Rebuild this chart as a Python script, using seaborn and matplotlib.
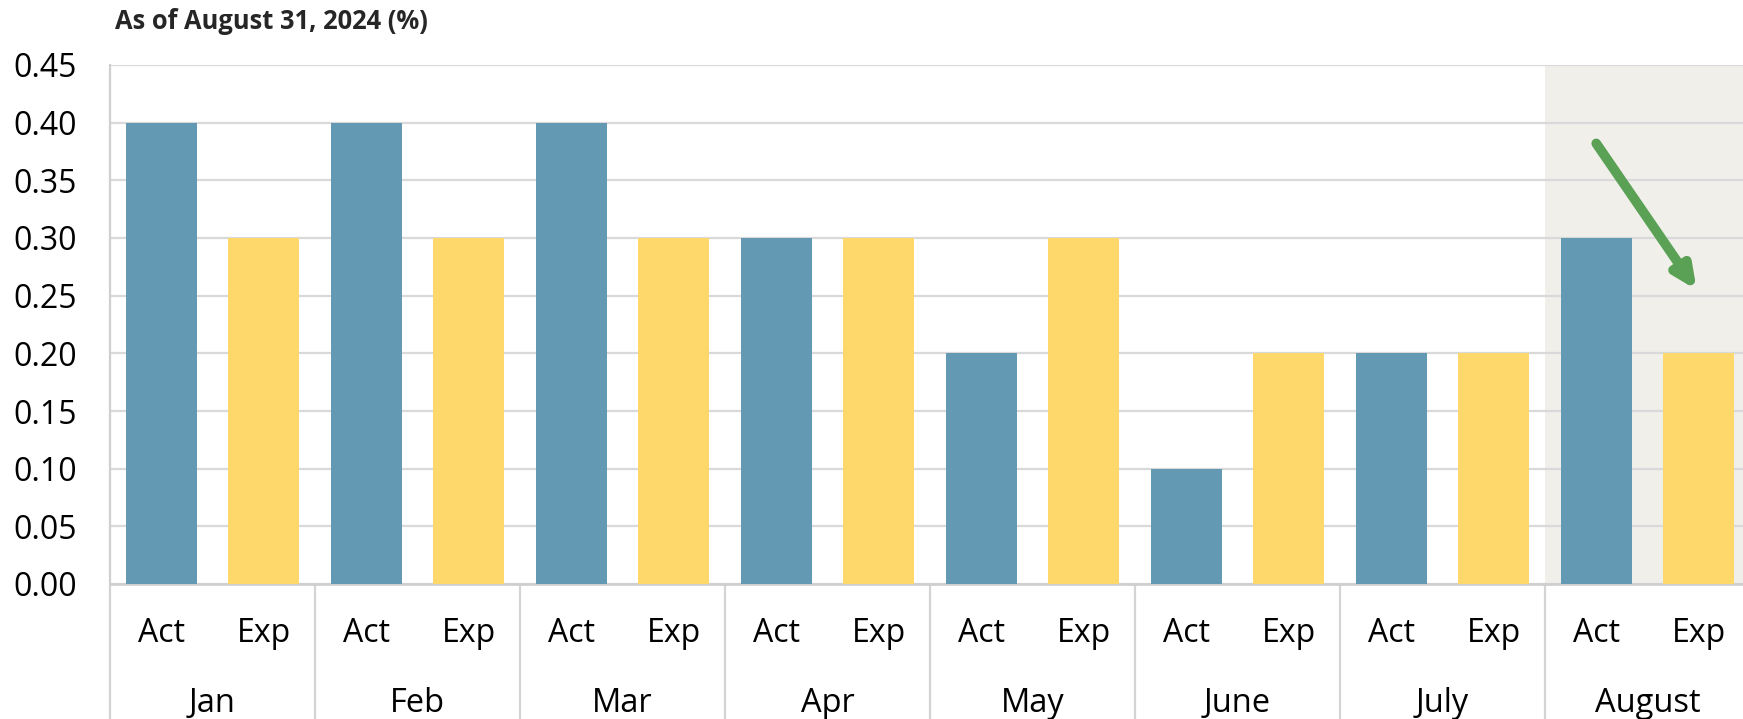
import matplotlib
matplotlib.use("Agg")
import matplotlib.pyplot as plt
import matplotlib.transforms as mtransforms
import seaborn as sns
import pandas as pd

months = ["Jan", "Feb", "Mar", "Apr", "May", "June", "July", "August"]
actual = [0.40, 0.40, 0.40, 0.30, 0.20, 0.10, 0.20, 0.30]
expected = [0.30, 0.30, 0.30, 0.30, 0.30, 0.20, 0.20, 0.20]
kinds = ["Act", "Exp"]
y_ticks = [0.00, 0.05, 0.10, 0.15, 0.20, 0.25, 0.30, 0.35, 0.40, 0.45]

ACT_COLOR = "#6399b2"
EXP_COLOR = "#fed86b"
GRID_COLOR = "#d9d9d9"
SHADE_COLOR = "#f0efea"
ARROW_COLOR = "#5aa155"

# long table, one row per bar
rows = []
for m, a, e in zip(months, actual, expected):
    rows.append({"slot": f"{m} Act", "kind": "Act", "value": a})
    rows.append({"slot": f"{m} Exp", "kind": "Exp", "value": e})
df = pd.DataFrame(rows)
order = list(df["slot"])

sns.set_style("white")
plt.rcParams["font.family"] = ["Open Sans", "DejaVu Sans"]

fig = plt.figure(figsize=(17.43, 7.19), dpi=100)
ax = fig.add_axes([110 / 1743, 1 - 584 / 719, 1640 / 1743, 519 / 719])

# highlighted last month
ax.axvspan(13.5, 15.6, color=SHADE_COLOR, zorder=0, lw=0)

sns.barplot(data=df, x="slot", y="value", hue="kind", order=order,
            palette={"Act": ACT_COLOR, "Exp": EXP_COLOR}, dodge=False,
            saturation=1, width=0.69, legend=False, ax=ax, zorder=3,
            linewidth=0)

ax.set_xlim(-0.5, 15.5)
ax.set_ylim(0, 0.45)
ax.set_yticks(y_ticks)
ax.set_yticklabels([f"{v:.2f}" for v in y_ticks], fontsize=23)
ax.yaxis.grid(True, color=GRID_COLOR, lw=1.6, zorder=1)
ax.set_axisbelow(True)
ax.tick_params(axis="y", length=0, pad=24, labelcolor="black")

ax.set_xticks(range(len(order)))
ax.set_xticklabels([k for _ in months for k in kinds], fontsize=23)
ax.tick_params(axis="x", length=0, pad=24, labelcolor="black")
ax.set_xlabel("")
ax.set_ylabel("")

for side in ["top", "right"]:
    ax.spines[side].set_visible(False)
ax.spines["left"].set_color("#cfcfcf")
ax.spines["left"].set_linewidth(1.6)
ax.spines["bottom"].set_color("#cfcfcf")
ax.spines["bottom"].set_linewidth(2)

# month group dividers and labels below the axis
trans = mtransforms.blended_transform_factory(ax.transData, ax.transAxes)
for i, m in enumerate(months):
    ax.plot([2 * i - 0.5, 2 * i - 0.5], [0, -0.27], transform=trans,
            color="#d4d4d4", lw=1.6, clip_on=False)
    ax.text(2 * i + 0.5, -120 / 519, m, transform=trans, ha="center",
            va="center", fontsize=23.5, color="black")

# downward arrow in the August block
ax.annotate("", xy=(14.98, 0.255), xytext=(14.0, 0.382),
            arrowprops=dict(arrowstyle="-|>,head_length=1.3,head_width=0.6",
                            color=ARROW_COLOR, lw=7, shrinkA=0, shrinkB=0),
            zorder=5)

fig.text(115 / 1743, 1 - 29 / 719, "As of August 31, 2024 (%)",
         fontsize=18.4, fontweight="bold", va="baseline", ha="left")

fig.savefig("out.png", dpi=100)
